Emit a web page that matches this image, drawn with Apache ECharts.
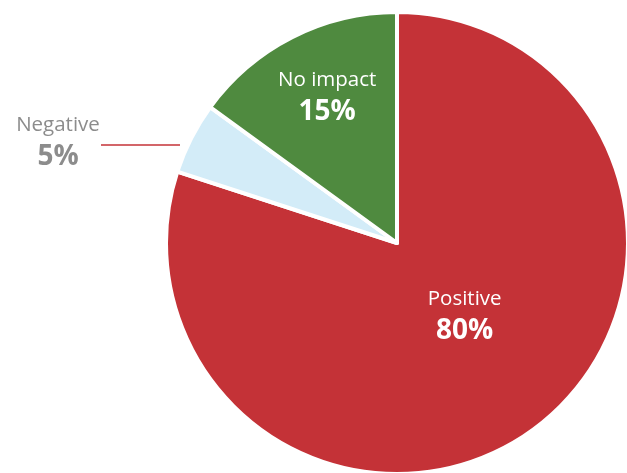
<!DOCTYPE html>
<html>
<head>
<meta charset="utf-8">
<script src="https://cdn.jsdelivr.net/npm/echarts@6/dist/echarts.min.js"></script>
<style>
  html, body { margin: 0; padding: 0; background: #ffffff; }
  #chart { width: 627px; height: 473px; }
</style>
</head>
<body>
<div id="chart"></div>
<script>
// Survey answers, in drawing order (clockwise from 12 o'clock)
const categories = ['Positive', 'Negative', 'No impact'];
const shares = [80, 5, 15];
const sliceColors = ['#c43237', '#d3ecf8', '#4f8a3f'];

const FONT = '"Open Sans", "Noto Sans", sans-serif';

const center = [397, 243];
const radius = 231;

const richStyles = (color) => ({
  n: { fontFamily: FONT, fontSize: 20.5, color: color, lineHeight: 32, align: 'center' },
  v: { fontFamily: FONT, fontSize: 28, fontWeight: 'bold', color: color, lineHeight: 32, align: 'center' }
});

// per-slice label placement
const labelSetups = [
  { position: 'inside', offset: [-2, -24], rich: richStyles('#ffffff') },
  { position: 'outside', rich: richStyles('#8c8c8c') },
  { position: 'inside', offset: [-16, -41], rich: richStyles('#ffffff') }
];

const chart = echarts.init(document.getElementById('chart'), null, { renderer: 'canvas' });

chart.setOption({
  animation: false,
  series: [{
    type: 'pie',
    center: center,
    radius: radius,
    startAngle: 90,
    clockwise: true,
    silent: true,
    itemStyle: { borderColor: '#ffffff', borderWidth: 4 },
    label: {
      show: true,
      formatter: (p) => '{n|' + p.name + '}\n{v|' + p.value + '%}'
    },
    labelLine: {
      show: true,
      length: 0,
      length2: 80,
      lineStyle: { color: '#c43237', width: 1.5 }
    },
    labelLayout: function (p) {
      if (p.dataIndex !== 1) return {};
      const y = 145;
      const xEnd = center[0] - radius + 14;
      const xStart = 101;
      return {
        x: 58, y: 141, align: 'center', verticalAlign: 'middle',
        labelLinePoints: [[xEnd, y], [xEnd, y], [xStart, y]]
      };
    },
    data: categories.map((name, i) => ({
      name: name,
      value: shares[i],
      itemStyle: { color: sliceColors[i] },
      label: labelSetups[i],
      labelLine: { show: i === 1 }
    }))
  }]
});
</script>
</body>
</html>
